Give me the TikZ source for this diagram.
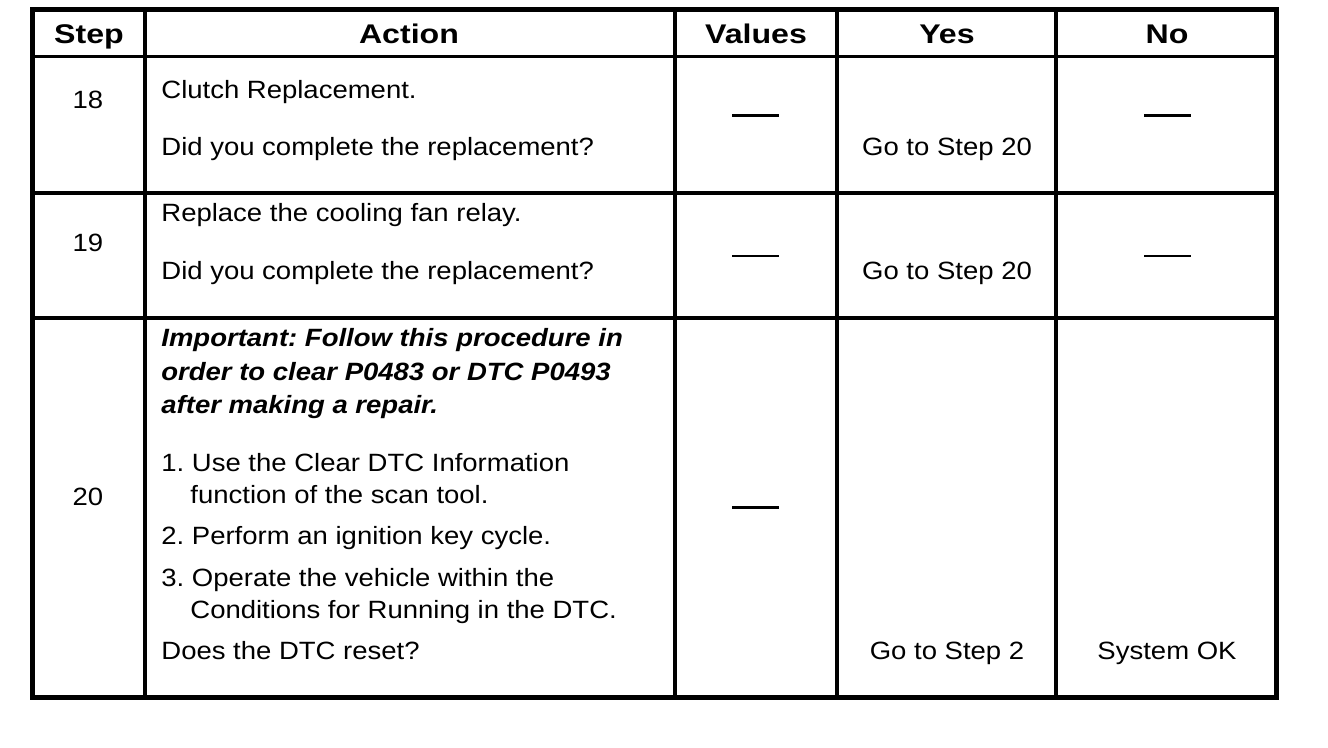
\documentclass[tikz,border=0pt]{standalone}
\usepackage{fontspec}
\setmainfont{Liberation Sans}[FakeStretch=1.1]
\newfontfamily\headfont{Liberation Sans}[FakeStretch=1.19]
\usetikzlibrary{positioning}
\frenchspacing

\tikzset{every node/.style={inner sep=0pt}}
\tikzstyle{head}=[anchor=base,font=\headfont\bfseries\fontsize{13.5}{15}\selectfont]
\tikzstyle{cell}=[anchor=base west,font=\fontsize{12.5}{15}\selectfont]
\tikzstyle{mid}=[anchor=base,font=\fontsize{12.5}{15}\selectfont]
\tikzstyle{note}=[anchor=base west,font=\bfseries\itshape\fontsize{12.5}{15}\selectfont]
\tikzstyle{nil}=[anchor=center]
\newcommand{\nodash}{\rule{23.5pt}{1.4pt}}

\begin{document}
\begin{tikzpicture}[x=0.5pt,y=-0.5pt,
        tablerule/.style={line width=1.75pt},
        tableframe/.style={line width=2.5pt}]
    \useasboundingbox (0,0) rectangle (1328,748);

    % grid
    \draw[tablerule] (145,9.7) -- (145,697.8);
    \draw[tablerule] (675,9.7) -- (675,697.8);
    \draw[tablerule] (837,9.7) -- (837,697.8);
    \draw[tablerule] (1056,9.7) -- (1056,697.8);
    \draw[tablerule] (32.2,56.5) -- (1276.8,56.5);
    \draw[tablerule] (32.2,193) -- (1276.8,193);
    \draw[tablerule] (32.2,318) -- (1276.8,318);
    \draw[tableframe] (32.2,9.7) rectangle (1276.8,697.8);

    % header
    \node[head] (hstep) at (89,43.5) {Step};
    \node[head] (haction) at (409,43.5) {Action};
    \node[head] (hvalues) at (756,43.5) {Values};
    \node[head] (hyes) at (947,43.5) {Yes};
    \node[head] (hno) at (1167,43.5) {No};

    % step 18
    \node[mid] (s18) at (88,109) {18};
    \node[cell] (a18) at (161,98.5) {Clutch Replacement.};
    \node[cell] (q18) at (161,155.5) {Did you complete the replacement?};
    \node[nil] (v18) at (755.5,115.3) {\nodash};
    \node[mid] (y18) at (947,156) {Go to Step 20};
    \node[nil] (n18) at (1167.5,115.3) {\nodash};

    % step 19
    \node[mid] (s19) at (88,252) {19};
    \node[cell] (a19) at (161,222) {Replace the cooling fan relay.};
    \node[cell] (q19) at (161,279.5) {Did you complete the replacement?};
    \node[nil] (v19) at (755.5,256) {\nodash};
    \node[mid] (y19) at (947,280) {Go to Step 20};
    \node[nil] (n19) at (1167.5,256) {\nodash};

    % step 20
    \node[mid] (s20) at (88,505) {20};
    \node[note] (i1) at (161,347) {Important: Follow this procedure in};
    \node[note] (i2) at (161,380.5) {order to clear P0483 or DTC P0493};
    \node[note] (i3) at (161,414) {after making a repair.};
    \node[cell] (l1) at (161,472) {1. Use the Clear DTC Information};
    \node[cell] (l1b) at (190,503) {function of the scan tool.};
    \node[cell] (l2) at (161,545) {2. Perform an ignition key cycle.};
    \node[cell] (l3) at (161,586.5) {3. Operate the vehicle within the};
    \node[cell] (l3b) at (190,618) {Conditions for Running in the DTC.};
    \node[cell] (q20) at (161,659) {Does the DTC reset?};
    \node[nil] (v20) at (755.5,507.5) {\nodash};
    \node[mid] (y20) at (947,659) {Go to Step 2};
    \node[mid] (n20) at (1167,659) {System OK};
\end{tikzpicture}
\end{document}
